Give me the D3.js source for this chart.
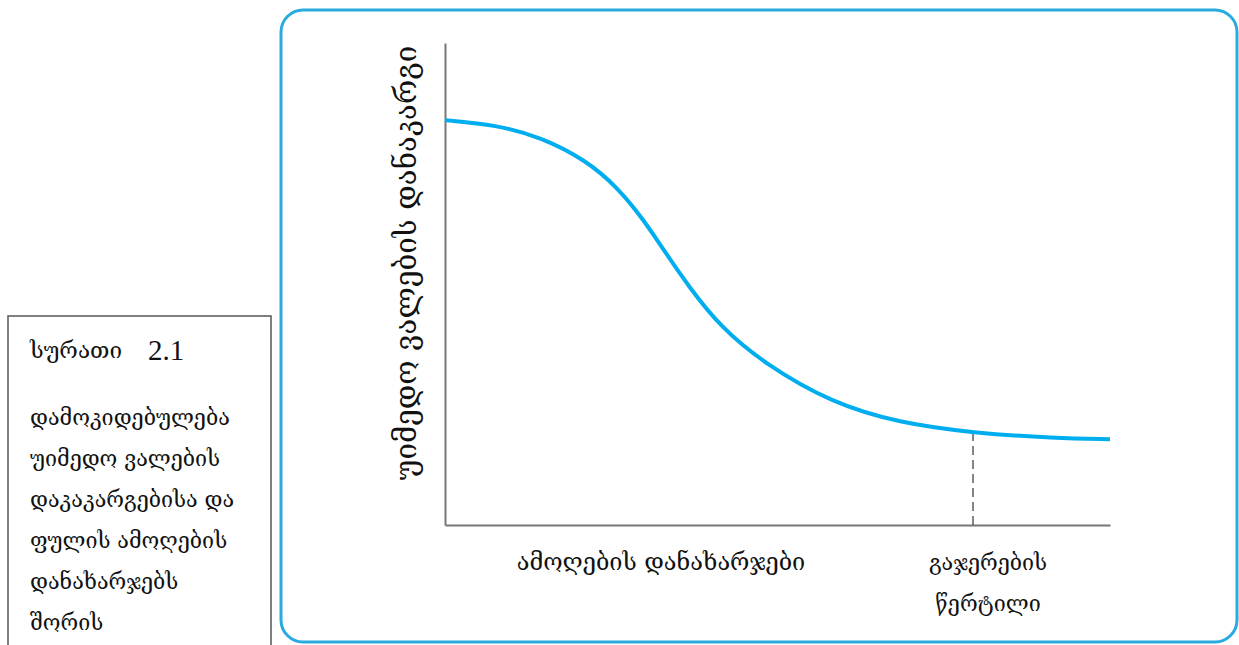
<!DOCTYPE html>
<html><head><meta charset="utf-8">
<script src="https://cdn.jsdelivr.net/npm/d3@7"></script>
<style>html,body{margin:0;padding:0;background:#fff;overflow:hidden}</style>
</head><body>
<script>
// Data (abstract units 0-100)
const costX = [0, 7.7, 14.4, 21.2, 25.9, 29.9, 33.2, 36.7, 41.4, 48.1, 58.2, 68.3, 79.4, 91.7, 100];
const lossY = [84.0, 83.0, 80.5, 75.7, 70.1, 63.3, 56.4, 49.4, 41.1, 33.4, 25.3, 21.2, 19.1, 18.0, 17.8];
const saturationX = [79.4];
const yLabel = ["უიმედო ვალების დანაკარგი"];
const xLabel = ["ამოღების დანახარჯები"];
const satLabel = ["გაჯერების", "წერტილი"];
const captionTitle = ["სურათი", "2.1"];
const captionLines = ["დამოკიდებულება", "უიმედო ვალების", "დაკაკარგებისა და", "ფულის ამოღების", "დანახარჯებს", "შორის"];

const W = 1239, H = 645;
const svg = d3.select("body").append("svg").attr("width", W).attr("height", H);
const geoFont = "'DejaVu Serif','DejaVu Sans',serif";

// Outer rounded frame
svg.append("rect").attr("x", 281).attr("y", 10).attr("width", 956).attr("height", 632)
  .attr("rx", 22).attr("fill", "none").attr("stroke", "#29abe2").attr("stroke-width", 3);

// Caption box
svg.append("rect").attr("x", 8).attr("y", 316).attr("width", 263).attr("height", 340)
  .attr("fill", "#fff").attr("stroke", "#555").attr("stroke-width", 1.5);
svg.append("text").attr("x", 30).attr("y", 358).attr("font-family", geoFont).attr("font-size", 22.5)
  .attr("fill", "#111").text(captionTitle[0]);
svg.append("text").attr("x", 148).attr("y", 360).attr("font-family", "'Liberation Serif',serif").attr("font-size", 29)
  .attr("fill", "#111").text(captionTitle[1]);
svg.selectAll("text.cap").data(captionLines).enter().append("text").attr("class", "cap")
  .attr("x", 30).attr("y", (d, i) => 425 + i * 41).attr("font-family", geoFont).attr("font-size", 21.5)
  .attr("fill", "#111").text(d => d);

// Scales
const x = d3.scaleLinear().domain([0, 100]).range([445, 1110]);
const y = d3.scaleLinear().domain([0, 100]).range([525, 43]);

// Axes
svg.append("g").attr("transform", `translate(0,${y(0)})`)
  .call(d3.axisBottom(x).tickValues([]).tickSizeOuter(0))
  .call(g => g.select(".domain").attr("stroke", "#777").attr("stroke-width", 2));
svg.append("g").attr("transform", `translate(${x(0)},0)`)
  .call(d3.axisLeft(y).tickValues([]).tickSizeOuter(0))
  .call(g => g.select(".domain").attr("stroke", "#777").attr("stroke-width", 2));

// Dashed saturation line
const pts = costX.map((v, i) => [v, lossY[i]]);
svg.selectAll("line.sat").data(saturationX).enter().append("line").attr("class", "sat")
  .attr("x1", d => x(d)).attr("x2", d => x(d))
  .attr("y1", y(0)).attr("y2", d => y(lossY[costX.indexOf(d)]) + 1)
  .attr("stroke", "#444").attr("stroke-width", 1.3).attr("stroke-dasharray", "9,5");

// Curve
const line = d3.line().x(d => x(d[0])).y(d => y(d[1])).curve(d3.curveBasis);
svg.append("path").datum(pts).attr("d", line).attr("fill", "none")
  .attr("stroke", "#00aeef").attr("stroke-width", 4);

// Labels
svg.append("text").attr("transform", `translate(416,263) rotate(-90)`).attr("text-anchor", "middle")
  .attr("font-family", geoFont).attr("font-size", 29.5).attr("fill", "#111").text(yLabel[0]);
svg.append("text").attr("x", 661).attr("y", 570).attr("text-anchor", "middle")
  .attr("font-family", geoFont).attr("font-size", 23.5).attr("fill", "#111").text(xLabel[0]);
svg.selectAll("text.satl").data(satLabel).enter().append("text").attr("class", "satl")
  .attr("x", 988).attr("y", (d, i) => 570 + i * 41).attr("text-anchor", "middle")
  .attr("font-family", geoFont).attr("font-size", 21.5).attr("fill", "#111").text(d => d);
</script>
</body></html>
